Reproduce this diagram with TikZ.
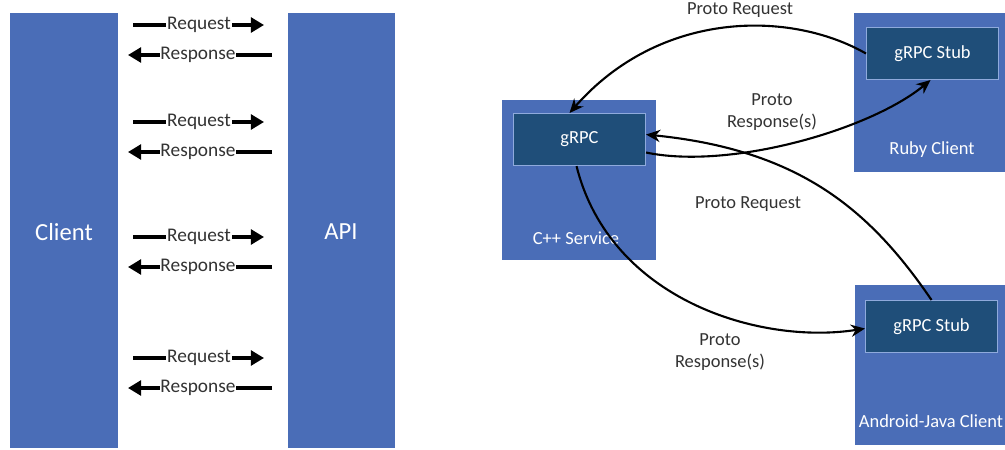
\documentclass[tikz,border=0pt]{standalone}
\usepackage{fontspec}
\setmainfont{Carlito}
\usetikzlibrary{arrows.meta}
\definecolor{boxblue}{HTML}{4A6DB7}
\definecolor{innerblue}{HTML}{1F4E79}
\definecolor{innerline}{HTML}{8FAADC}
\definecolor{labelgray}{HTML}{333333}
\tikzset{
  bigbox/.style={fill=boxblue, draw=none, anchor=north west, inner sep=0pt},
  innerbox/.style={fill=innerblue, draw=innerline, line width=0.6pt, anchor=north west, inner sep=0pt, text=white, font=\fontsize{10.5}{12}\selectfont},
  boxlabel/.style={text=white, font=\fontsize{10.5}{12}\selectfont},
  biglabel/.style={text=white, font=\fontsize{14}{16}\selectfont},
  msg/.style={fill=white, inner sep=0.5pt, text=labelgray, font=\fontsize{11}{12}\selectfont},
  flow/.style={line width=1.8pt, -{Triangle[length=7.5pt,width=8.5pt]}},
  curve/.style={line width=1.2pt, -{Stealth[length=8pt,width=7pt]}},
  clabel/.style={text=labelgray, font=\fontsize{10.5}{12.5}\selectfont, align=center}
}
\begin{document}
\begin{tikzpicture}[x=0.02cm, y=-0.02cm]
\useasboundingbox (0,0) rectangle (1005,450);
% left part
\node[bigbox, minimum width=108*0.02cm, minimum height=435*0.02cm] (client) at (10,13) {};
\node[bigbox, minimum width=107*0.02cm, minimum height=435*0.02cm] (api) at (288,13) {};
\node[biglabel] (clientlbl) at (64,232) {Client};
\node[biglabel] (apilbl) at (341,232) {API};
\foreach \y [count=\i] in {25,122,237,358} {
  \coordinate (rqa\i) at (133,\y);
  \coordinate (rqb\i) at (264,\y);
  \coordinate (rsa\i) at (272,\y+30);
  \coordinate (rsb\i) at (128,\y+30);
  \draw[flow] (rqa\i) -- (rqb\i);
  \draw[flow] (rsa\i) -- (rsb\i);
  \node[msg] (rq\i) at (199,\y) {Request};
  \node[msg] (rs\i) at (198,\y+30) {Response};
}
% right part
\node[bigbox, minimum width=154*0.02cm, minimum height=160*0.02cm] (cpp) at (502,100) {};
\node[innerbox, minimum width=132*0.02cm, minimum height=52*0.02cm] (grpc) at (513,113) {gRPC};
\node[boxlabel] (cpplbl) at (576,238) {C++ Service};
\node[bigbox, minimum width=155*0.02cm, minimum height=159*0.02cm] (ruby) at (854,13) {};
\node[innerbox, minimum width=132*0.02cm, minimum height=52*0.02cm] (rstub) at (866,27) {gRPC Stub};
\node[boxlabel] (rubylbl) at (932,150) {Ruby Client};
\node[bigbox, minimum width=155*0.02cm, minimum height=160*0.02cm] (android) at (855,285) {};
\node[innerbox, minimum width=132*0.02cm, minimum height=52*0.02cm] (astub) at (865,300) {gRPC Stub};
\node[boxlabel] (androidlbl) at (931,421) {Android-Java Client};
% curves
\draw[curve] (rstub.west) .. controls (790,10) and (660,10) .. ([xshift=-10*0.02cm]grpc.north);
\draw[curve] ([yshift=-13*0.02cm]grpc.east) .. controls (730,170) and (870,130) .. ([xshift=-2*0.02cm]rstub.south);
\draw[curve] (astub.north) .. controls (870,210) and (800,150) .. ([yshift=5*0.02cm]grpc.east);
\draw[curve] ([xshift=-3*0.02cm]grpc.south) .. controls (610,300) and (760,345) .. ([yshift=-2*0.02cm]astub.west);
% labels
\node[clabel] (l1) at (740,10) {Proto Request};
\node[clabel] (l2) at (772,112) {Proto\\Response(s)};
\node[clabel] (l3) at (748,204) {Proto Request};
\node[clabel] (l4) at (720,352) {Proto\\Response(s)};
\end{tikzpicture}
\end{document}
